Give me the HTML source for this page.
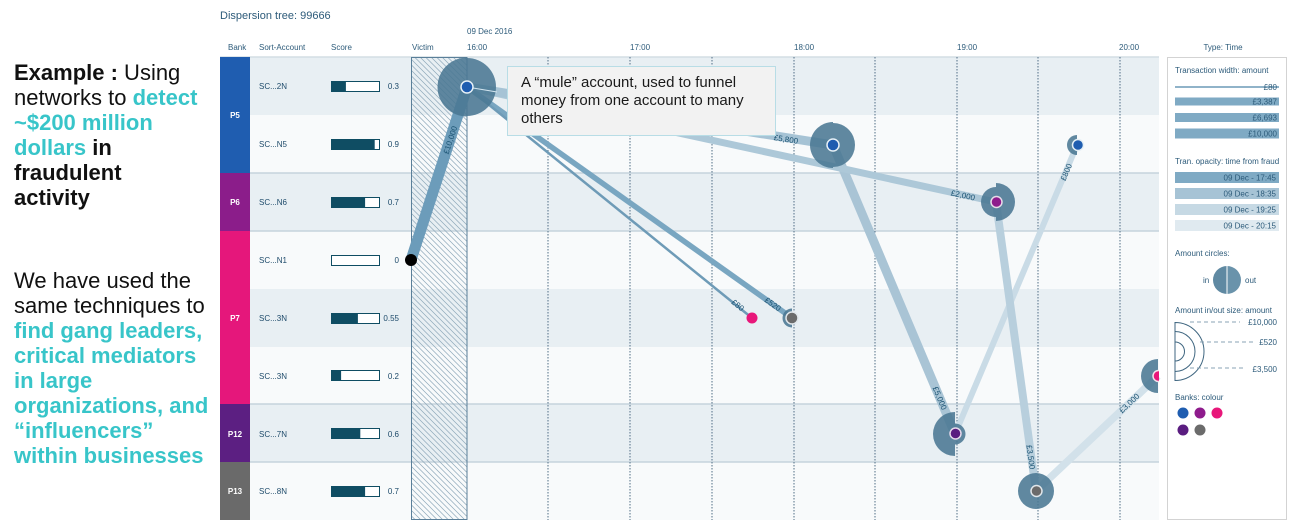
<!DOCTYPE html>
<html><head><meta charset="utf-8">
<style>
html,body{margin:0;padding:0;background:#fff;width:1300px;height:531px;overflow:hidden;position:relative}
.p{position:absolute;left:14px;font-family:"Liberation Sans",sans-serif;font-size:22px;line-height:25px;color:#111;white-space:nowrap}
.b{font-weight:bold}
.t{color:#38c5c9;font-weight:bold}
svg{position:absolute;left:0;top:0}
</style></head><body>
<div class="p" style="top:60px"><span class="b">Example :</span> Using<br>networks to <span class="t">detect</span><br><span class="t">~$200 million</span><br><span class="t">dollars</span> <span class="b">in</span><br><span class="b">fraudulent</span><br><span class="b">activity</span></div>
<div class="p" style="top:268px">We have used the<br>same techniques to<br><span class="t">find gang leaders,</span><br><span class="t">critical mediators</span><br><span class="t">in large</span><br><span class="t">organizations, and</span><br><span class="t">“influencers”</span><br><span class="t">within businesses</span></div>

<svg width="1300" height="531" font-family="Liberation Sans, sans-serif">
<defs>
<pattern id="h" patternUnits="userSpaceOnUse" width="5.5" height="5.5">
<path d="M-1,-1 L6.5,6.5 M-1,4.5 L1,6.5 M4.5,-1 L6.5,1" stroke="#8ea8ba" stroke-width="0.7"/>
</pattern>
<clipPath id="c"><rect x="250" y="57" width="909" height="463"/></clipPath>
</defs>

<!-- header -->
<text x="220" y="19" font-size="11" fill="#2d5b7a">Dispersion tree: 99666</text>
<text x="467" y="34" font-size="8" fill="#2d5b7a">09 Dec 2016</text>
<g font-size="8" fill="#2d5b7a">
<text x="228" y="50">Bank</text>
<text x="259" y="50">Sort-Account</text>
<text x="331" y="50">Score</text>
<text x="412" y="50">Victim</text>
<text x="467" y="50">16:00</text>
<text x="630" y="50">17:00</text>
<text x="794" y="50">18:00</text>
<text x="957" y="50">19:00</text>
<text x="1119" y="50">20:00</text>
<text x="1223" y="50" text-anchor="middle">Type: Time</text>
</g>

<!-- rows -->
<g>
<rect x="250" y="57" width="909" height="58" fill="#e8eff3"/>
<rect x="250" y="115" width="909" height="58" fill="#f8fafb"/>
<rect x="250" y="173" width="909" height="58" fill="#e8eff3"/>
<rect x="250" y="231" width="909" height="58" fill="#f8fafb"/>
<rect x="250" y="289" width="909" height="58" fill="#e8eff3"/>
<rect x="250" y="347" width="909" height="57" fill="#f8fafb"/>
<rect x="250" y="404" width="909" height="58" fill="#e8eff3"/>
<rect x="250" y="462" width="909" height="58" fill="#f8fafb"/>
</g>
<g stroke="#c6d3dc" stroke-width="1.5">
<line x1="220" y1="57" x2="1159" y2="57" stroke="#d3dde4"/>
<line x1="250" y1="173" x2="1159" y2="173"/>
<line x1="250" y1="231" x2="1159" y2="231"/>
<line x1="250" y1="404" x2="1159" y2="404"/>
<line x1="250" y1="462" x2="1159" y2="462"/>
</g>

<!-- banks -->
<rect x="220" y="57" width="30" height="116" fill="#1f5db0"/>
<rect x="220" y="173" width="30" height="58" fill="#8b1d8a"/>
<rect x="220" y="231" width="30" height="173" fill="#e5177b"/>
<rect x="220" y="404" width="30" height="58" fill="#5c1f82"/>
<rect x="220" y="462" width="30" height="58" fill="#6a6a6a"/>
<g font-size="8" font-weight="bold" fill="#fff" text-anchor="middle">
<text x="235" y="118">P5</text>
<text x="235" y="205">P6</text>
<text x="235" y="321">P7</text>
<text x="235" y="437">P12</text>
<text x="235" y="494">P13</text>
</g>

<!-- accounts -->
<g font-size="8" fill="#1d4a6a">
<text x="259" y="89">SC...2N</text>
<text x="259" y="147">SC...N5</text>
<text x="259" y="205">SC...N6</text>
<text x="259" y="263">SC...N1</text>
<text x="259" y="321">SC...3N</text>
<text x="259" y="379">SC...3N</text>
<text x="259" y="437">SC...7N</text>
<text x="259" y="494">SC...8N</text>
</g>

<!-- scores -->
<g stroke="#0f4d63" stroke-width="1" fill="#fff">
<rect x="331.5" y="81.5" width="48" height="10"/>
<rect x="331.5" y="139.5" width="48" height="10"/>
<rect x="331.5" y="197.5" width="48" height="10"/>
<rect x="331.5" y="255.5" width="48" height="10"/>
<rect x="331.5" y="313.5" width="48" height="10"/>
<rect x="331.5" y="370.5" width="48" height="10"/>
<rect x="331.5" y="428.5" width="48" height="10"/>
<rect x="331.5" y="486.5" width="48" height="10"/>
</g>
<g fill="#0f4d63">
<rect x="331.5" y="81.5" width="14.4" height="10"/>
<rect x="331.5" y="139.5" width="43.2" height="10"/>
<rect x="331.5" y="197.5" width="33.6" height="10"/>
<rect x="331.5" y="313.5" width="26.4" height="10"/>
<rect x="331.5" y="370.5" width="9.6" height="10"/>
<rect x="331.5" y="428.5" width="28.8" height="10"/>
<rect x="331.5" y="486.5" width="33.6" height="10"/>
</g>
<g font-size="8" fill="#1d4a6a" text-anchor="end">
<text x="399" y="89">0.3</text>
<text x="399" y="147">0.9</text>
<text x="399" y="205">0.7</text>
<text x="399" y="263">0</text>
<text x="399" y="321">0.55</text>
<text x="399" y="379">0.2</text>
<text x="399" y="437">0.6</text>
<text x="399" y="494">0.7</text>
</g>

<!-- victim column -->
<rect x="411" y="57" width="56" height="463" fill="url(#h)"/>
<rect x="411.5" y="57.5" width="55.5" height="462" fill="none" stroke="#5a7f99" stroke-width="1"/>

<!-- grid -->
<g stroke="#4f6d85" stroke-width="1" stroke-dasharray="1.5,1.5">
<line x1="548" y1="57" x2="548" y2="520"/>
<line x1="630" y1="57" x2="630" y2="520"/>
<line x1="712" y1="57" x2="712" y2="520"/>
<line x1="794" y1="57" x2="794" y2="520"/>
<line x1="875" y1="57" x2="875" y2="520"/>
<line x1="957" y1="57" x2="957" y2="520"/>
<line x1="1038" y1="57" x2="1038" y2="520"/>
<line x1="1120" y1="57" x2="1120" y2="520"/>
</g>

<!-- edges -->
<g stroke-linecap="butt" fill="none">
<line x1="1036" y1="491" x2="1158" y2="376" stroke="#d2e1ea" stroke-width="7.5"/>
<line x1="955" y1="434" x2="1077" y2="145" stroke="#c9dbe6" stroke-width="6"/>
<line x1="996" y1="202" x2="1036" y2="491" stroke="#b8cfdd" stroke-width="8"/>
<line x1="833" y1="145" x2="955" y2="434" stroke="#a9c4d5" stroke-width="9"/>
<line x1="467" y1="87" x2="996" y2="202" stroke="#adc8d8" stroke-width="7"/>
<line x1="467" y1="87" x2="833" y2="145" stroke="#a6c3d5" stroke-width="9"/>
<line x1="467" y1="87" x2="792" y2="318" stroke="#79a6c1" stroke-width="5.5"/>
<line x1="467" y1="87" x2="752" y2="318" stroke="#6e9bb7" stroke-width="2.5"/>
<line x1="411" y1="260" x2="467" y2="87" stroke="#6c9cba" stroke-width="11"/>
</g>

<!-- nodes -->
<g fill="#4a7793" fill-opacity="0.88" clip-path="url(#c)">
<path d="M467,57.5 A29.5,29.5 0 0 0 467,116.5 Z"/>
<path d="M467,58 A29,29 0 0 1 467,116 Z"/>
<path d="M833,122 A23,23 0 0 0 833,168 Z"/>
<path d="M833,123 A22,22 0 0 1 833,167 Z"/>
<path d="M1077,135 A10,10 0 0 0 1077,155 Z"/>
<path d="M996,187 A15,15 0 0 0 996,217 Z"/>
<path d="M996,183 A19,19 0 0 1 996,221 Z"/>
<path d="M792,308.5 A9.5,9.5 0 0 0 792,327.5 Z"/>
<path d="M1158,359 A17,17 0 0 0 1158,393 Z"/>
<path d="M955,412 A22,22 0 0 0 955,456 Z"/>
<path d="M955,423.5 A10.5,10.5 0 0 1 955,444.5 Z"/>
<path d="M1036,473 A18,18 0 0 0 1036,509 Z"/>
<path d="M1036,473 A18,18 0 0 1 1036,509 Z"/>
</g>
<line x1="467" y1="87" x2="497" y2="92" stroke="#d4e6f0" stroke-width="1"/>
<g stroke-width="1.5" clip-path="url(#c)">
<circle cx="467" cy="87" r="6" fill="#1f5db0" stroke="#e6f0f6"/>
<circle cx="833" cy="145" r="6" fill="#1f5db0" stroke="#e6f0f6"/>
<circle cx="1078" cy="145" r="5.5" fill="#1f5db0" stroke="#e6f0f6"/>
<circle cx="996.5" cy="202" r="5.5" fill="#8e1b8c" stroke="#e6dbe8"/>
<circle cx="792" cy="318" r="6" fill="#6b6b6b" stroke="#e0e6ea"/>
<circle cx="752" cy="318" r="5.5" fill="#e8177a" stroke="none"/>
<circle cx="1158.5" cy="376" r="5.5" fill="#e8177a" stroke="#f2e2ea"/>
<circle cx="955.5" cy="433.5" r="5.5" fill="#5a1d80" stroke="#e4d8ea"/>
<circle cx="1036.5" cy="491" r="5.5" fill="#6b6b6b" stroke="#e0e6ea"/>
</g>
<circle cx="411" cy="260" r="6" fill="#000"/>

<!-- edge labels -->
<g font-size="8" fill="#1a5272" text-anchor="middle">
<text transform="translate(450,140) rotate(-72)" dy="3">£10,000</text>
<text transform="translate(786,139) rotate(9)" dy="3">£5,800</text>
<text transform="translate(963,195) rotate(12.3)" dy="3">£2,000</text>
<text transform="translate(773,304) rotate(35.4)" dy="3">£520</text>
<text transform="translate(738,305) rotate(39)" dy="3">£80</text>
<text transform="translate(940,398) rotate(67)" dy="3">£5,000</text>
<text transform="translate(1031,457) rotate(82)" dy="3">£3,500</text>
<text transform="translate(1066,172) rotate(-67)" dy="3">£800</text>
<text transform="translate(1129,403) rotate(-43.3)" dy="3">£3,000</text>
</g>

<!-- annotation -->
<rect x="507.5" y="66.5" width="268" height="69" fill="#f2f2f2" stroke="#b8dde6" stroke-width="1"/>
<g font-size="15" fill="#1a1a1a">
<text x="521" y="87">A “mule” account, used to funnel</text>
<text x="521" y="105">money from one account to many</text>
<text x="521" y="123">others</text>
</g>

<!-- legend -->
<rect x="1167.5" y="57.5" width="119" height="462" fill="#fff" stroke="#d3d3d3" stroke-width="1"/>
<g font-size="8" fill="#2d5b7a">
<text x="1175" y="73">Transaction width: amount</text>
<line x1="1175" y1="87" x2="1279" y2="87" stroke="#6b9ab7" stroke-width="1.5"/>
<rect x="1175" y="97.5" width="104" height="8" fill="#7faac4"/>
<rect x="1175" y="113" width="104" height="9" fill="#7faac4"/>
<rect x="1175" y="128.5" width="104" height="10" fill="#7faac4"/>
<text x="1277" y="90" text-anchor="end">£80</text>
<text x="1277" y="104.5" text-anchor="end">£3,387</text>
<text x="1277" y="120.5" text-anchor="end">£6,693</text>
<text x="1277" y="136.5" text-anchor="end">£10,000</text>

<text x="1175" y="164">Tran. opacity: time from fraud</text>
<rect x="1175" y="172" width="104" height="11" fill="#7faac4"/>
<rect x="1175" y="188" width="104" height="11" fill="#a6c3d5"/>
<rect x="1175" y="204" width="104" height="11" fill="#c6d9e4"/>
<rect x="1175" y="220" width="104" height="11" fill="#e0eaf0"/>
<text x="1276" y="180.5" text-anchor="end">09 Dec - 17:45</text>
<text x="1276" y="196.5" text-anchor="end">09 Dec - 18:35</text>
<text x="1276" y="212.5" text-anchor="end">09 Dec - 19:25</text>
<text x="1276" y="228.5" text-anchor="end">09 Dec - 20:15</text>

<text x="1175" y="256">Amount circles:</text>
<path d="M1227,266 A14,14 0 0 0 1227,294 Z" fill="#5f89a2"/>
<path d="M1227,266 A14,14 0 0 1 1227,294 Z" fill="#6a93ab"/>
<line x1="1227" y1="266" x2="1227" y2="294" stroke="#fff" stroke-width="1"/>
<text x="1203" y="283">in</text>
<text x="1245" y="283">out</text>

<text x="1175" y="313">Amount in/out size: amount</text>
<g fill="none" stroke="#3f6680" stroke-width="1">
<path d="M1175,322.5 A29,29 0 0 1 1175,380.5 Z"/>
<path d="M1175,331.5 A20,20 0 0 1 1175,371.5"/>
<path d="M1175,342 A9.5,9.5 0 0 1 1175,361"/>
</g>
<g stroke="#8aa3b4" stroke-width="1" stroke-dasharray="4,3">
<line x1="1190" y1="322" x2="1240" y2="322"/>
<line x1="1200" y1="342" x2="1255" y2="342"/>
<line x1="1190" y1="368" x2="1245" y2="368"/>
</g>
<text x="1277" y="325" text-anchor="end">£10,000</text>
<text x="1277" y="345" text-anchor="end">£520</text>
<text x="1277" y="372" text-anchor="end">£3,500</text>

<text x="1175" y="400">Banks: colour</text>
<circle cx="1183" cy="413" r="5.5" fill="#1f5db0"/>
<circle cx="1200" cy="413" r="5.5" fill="#8e1b8c"/>
<circle cx="1217" cy="413" r="5.5" fill="#e8177a"/>
<circle cx="1183" cy="430" r="5.5" fill="#5a1d80"/>
<circle cx="1200" cy="430" r="5.5" fill="#6b6b6b"/>
</g>
</svg>
</body></html>
